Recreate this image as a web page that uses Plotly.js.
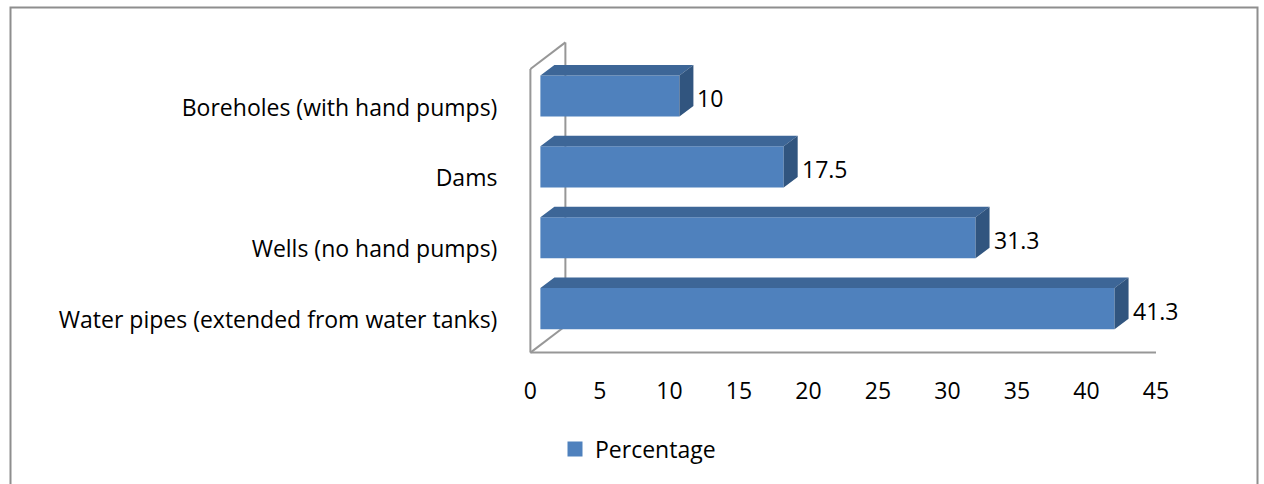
<!DOCTYPE html>
<html>
<head>
<meta charset="utf-8">
<script src="https://cdn.plot.ly/plotly-3.0.1.min.js"></script>
<style>
  html, body { margin: 0; padding: 0; background: #ffffff; }
  #chart { width: 1264px; height: 484px; }
</style>
</head>
<body>
<div id="chart"></div>
<script>
// Water sources, listed from the bottom row upwards
const categories = [
  'Water pipes (extended from water tanks)',
  'Wells (no hand pumps)',
  'Dams',
  'Boreholes (with hand pumps)'
];
const percentages = [41.3, 31.3, 17.5, 10];
const valueLabels = ['41.3', '31.3', '17.5', '10'];
const xTicks = [0, 5, 10, 15, 20, 25, 30, 35, 40, 45];
const seriesName = 'Percentage';

// Page / plot geometry (pixels)
const W = 1264, H = 484;
const M = { l: 529, r: 108, t: 41, b: 130 };
const plotW = W - M.l - M.r, plotH = H - M.t - M.b;
const xRange = [-0.1, 45];
const pxPerX = plotW / (xRange[1] - xRange[0]);

// Oblique 3-D look, expressed in data units
const wallDx = 35 / pxPerX;          // depth of the wall / floor, along x
const wallDy = 0.375;                // depth of the wall / floor, along y (rows)
const yRange = [-0.52, categories.length - 0.5 + wallDy + 0.02];
const pxPerY = plotH / (yRange[1] - yRange[0]);
const barShiftX = 10 / pxPerX;       // front face of bars sits slightly inside
const barShiftY = 8.5 / pxPerY;
const barDepthX = 14 / pxPerX;       // bar thickness in depth
const barDepthY = 10.5 / pxPerY;
const barWidth = 0.58;
const labelDrop = 3 / pxPerY;        // row labels sit a touch below the row centre

const FRONT = '#4F81BD', TOP = '#3D6697', SIDE = '#31557F';
const GRID = '#979797';
const FONT = '"Open Sans", Lato, sans-serif';
const FS = 23;

const rows = categories.map((_, i) => i);
const barY = rows.map(i => i + barShiftY);

// top and side faces of every bar as polygons
const topX = [], topY = [], sideX = [], sideY = [];
percentages.forEach((v, i) => {
  const yHi = barY[i] + barWidth / 2, yLo = barY[i] - barWidth / 2;
  const x0 = barShiftX, x1 = barShiftX + v;
  topX.push(x0, x0 + barDepthX, x1 + barDepthX, x1, x0, null);
  topY.push(yHi, yHi + barDepthY, yHi + barDepthY, yHi, yHi, null);
  sideX.push(x1, x1 + barDepthX, x1 + barDepthX, x1, x1, null);
  sideY.push(yLo, yLo + barDepthY, yHi + barDepthY, yHi, yLo, null);
});

const traces = [
  {
    type: 'bar', orientation: 'h',
    x: percentages, y: barY, base: barShiftX, width: barWidth,
    marker: { color: FRONT, line: { width: 0 } },
    showlegend: false, hoverinfo: 'skip'
  },
  {
    type: 'scatter', mode: 'lines', x: topX, y: topY,
    fill: 'toself', fillcolor: TOP, line: { width: 0, color: TOP },
    showlegend: false, hoverinfo: 'skip'
  },
  {
    type: 'scatter', mode: 'lines', x: sideX, y: sideY,
    fill: 'toself', fillcolor: SIDE, line: { width: 0, color: SIDE },
    showlegend: false, hoverinfo: 'skip'
  },
  {
    type: 'scatter', mode: 'markers', x: [null], y: [null],
    name: seriesName,
    marker: { symbol: 'square', size: 15, color: FRONT }
  }
];

// value labels just past the side face of each bar
const annotations = percentages.map((v, i) => ({
  x: barShiftX + v + barDepthX, y: barY[i] - 0.03,
  xref: 'x', yref: 'y', xanchor: 'left', yanchor: 'middle',
  xshift: 2, showarrow: false, text: valueLabels[i],
  font: { family: FONT, size: FS, color: '#000' }
}));

const rowTop = categories.length - 0.5, rowBottom = -0.5;
const wallLine = { color: GRID, width: 2 };
const px2x = px => (px - M.l) / plotW;
const px2y = py => (H - M.b - py) / plotH;

const shapes = [
  // outer frame of the chart
  { type: 'rect', xref: 'paper', yref: 'paper', layer: 'below',
    x0: px2x(10.5), x1: px2x(1257.5), y0: px2y(520), y1: px2y(7.5),
    line: { color: '#8e8e8e', width: 2 } },
  // back wall
  { type: 'line', xref: 'x', yref: 'y', layer: 'below', x0: 0, y0: rowBottom, x1: 0, y1: rowTop, line: wallLine },
  { type: 'line', xref: 'x', yref: 'y', layer: 'below', x0: 0, y0: rowTop, x1: wallDx, y1: rowTop + wallDy, line: wallLine },
  { type: 'line', xref: 'x', yref: 'y', layer: 'below', x0: wallDx, y0: rowBottom + wallDy, x1: wallDx, y1: rowTop + wallDy, line: wallLine },
  // floor
  { type: 'line', xref: 'x', yref: 'y', layer: 'below', x0: 0, y0: rowBottom, x1: wallDx, y1: rowBottom + wallDy, line: wallLine },
  { type: 'line', xref: 'x', yref: 'y', layer: 'below', x0: 0, y0: rowBottom, x1: 45, y1: rowBottom, line: wallLine }
];

const layout = {
  width: W, height: H,
  margin: M,
  paper_bgcolor: '#ffffff', plot_bgcolor: '#ffffff',
  font: { family: FONT, size: FS, color: '#000' },
  showlegend: true,
  legend: {
    orientation: 'h', x: px2x(555), y: px2y(449),
    xanchor: 'left', yanchor: 'middle',
    font: { family: FONT, size: FS, color: '#000' }
  },
  xaxis: {
    range: xRange, tickmode: 'array', tickvals: xTicks,
    ticks: 'outside', ticklen: 16, tickcolor: 'rgba(0,0,0,0)',
    showgrid: false, zeroline: false, showline: false, fixedrange: true
  },
  yaxis: {
    range: yRange, tickmode: 'array',
    tickvals: rows.map(i => i - labelDrop), ticktext: categories,
    ticks: 'outside', ticklen: 26, tickcolor: 'rgba(0,0,0,0)',
    showgrid: false, zeroline: false, showline: false, fixedrange: true
  },
  shapes, annotations
};

Plotly.newPlot('chart', traces, layout, { displayModeBar: false, staticPlot: true });
</script>
</body>
</html>
